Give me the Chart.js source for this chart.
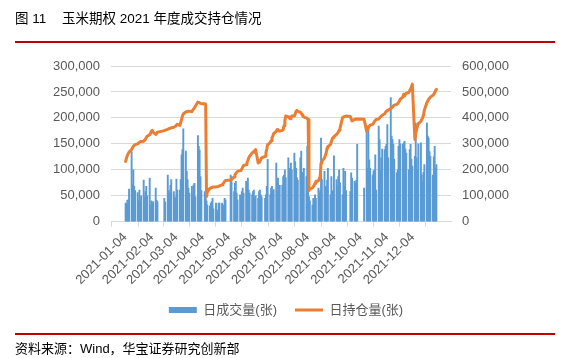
<!DOCTYPE html>
<html>
<head>
<meta charset="utf-8">
<script src="https://cdn.jsdelivr.net/npm/chart.js@4.4.1/dist/chart.umd.min.js"></script>
<style>
html,body{margin:0;padding:0;background:#fff;}
#wrap{position:relative;width:572px;height:358px;overflow:hidden;font-family:"Liberation Sans","Noto Sans CJK SC",sans-serif;}
#c{position:absolute;left:0;top:0;}
.title{position:absolute;top:10px;font-family:"Liberation Sans","Noto Sans CJK SC",sans-serif;font-size:13.5px;line-height:18px;color:#000;white-space:nowrap;}
.rule{position:absolute;left:15px;width:540px;height:2px;background:#c00000;}
#source{position:absolute;left:15px;top:340px;font-family:"Liberation Sans","Noto Sans CJK SC",sans-serif;font-size:13px;line-height:17px;color:#000;white-space:nowrap;}
</style>
</head>
<body>
<div id="wrap">
<canvas id="c" width="572" height="358"></canvas>
<div class="title" style="left:15px">图 11</div>
<div class="title" style="left:62px">玉米期权 2021 年度成交持仓情况</div>
<div class="rule" style="top:40.7px"></div>
<div class="rule" style="top:333.4px"></div>
<div id="source">资料来源：Wind，华宝证券研究创新部</div>
</div>
<script>
// ---- data ----
const seriesNames = ['日成交量(张)', '日持仓量(张)'];
const holidays = ['2021-02-11','2021-02-12','2021-02-15','2021-02-16','2021-02-17','2021-04-05',
  '2021-05-03','2021-05-04','2021-05-05','2021-06-14','2021-09-20','2021-09-21',
  '2021-10-01','2021-10-04','2021-10-05','2021-10-06','2021-10-07'];
const tickLabels = ['2021-01-04','2021-02-04','2021-03-04','2021-04-04','2021-05-04','2021-06-04',
  '2021-07-04','2021-08-04','2021-09-04','2021-10-04','2021-11-04','2021-12-04'];
const leftTicks = [0, 50000, 100000, 150000, 200000, 250000, 300000];
const rightTicks = [0, 100000, 200000, 300000, 400000, 500000, 600000];

// daily volume, one value per trading day (Jan..Dec)
const volume = [
  36000,34000,41000,42000,63000, 135000,71000,100000,68000,60000, 56000,42000,61000,39000,50000, 80000,48000,58000,68000,50000,
  84000,32000,40000,36000,39000, 65000,41000,39000, 45000,38000, 90000,60000,55000,70000,81000,
  58000,48000,45000,82000,61000, 61000,81000,129000,139000,179000, 136000,97000,81000,65000,55000, 68000,52000,71000,74000,48000, 166000,145000,138000,
  87000,60000, 58000,50000,40000,32000, 30000,36000,39000,45000,25000, 36000,23000,19000,36000,36000, 36000,32000,32000,45000,42000,
  90000,87000, 58000,74000,78000,55000,42000, 52000,48000,58000,65000,55000, 78000,36000,84000,61000,55000, 52000,
  58000,61000,45000,50000, 45000,58000,61000,52000,48000, 45000,52000,68000,120000, 52000,65000,68000,58000,62000, 113000,55000,84000,
  61000,70000, 70000,87000,90000,100000,85000, 123000,103000,95000,113000,100000, 132000,116000,103000,85000,80000, 123000,136000,95000,84000,103000,
  87000,145000,87000,48000,40000, 32000,45000,42000,52000,45000, 65000,55000,60000,161000,81000, 97000,68000,65000,80000,103000, 52000,87000,
  60000,52000,127000, 81000,68000,87000,100000,75000, 52000,103000,68000,97000,60000, 58000,94000,84000, 78000,74000,80000,149000,
  65000, 185000,103000,178000,119000,103000, 90000,98000,100000,129000,61000, 184000,158000,100000,123000,140000,
  139000,145000,149000,187000,123000, 239000,165000,158000,149000,120000, 94000,100000,145000,158000,150000, 149000,152000,155000,140000,132000, 100000,139000,
  149000,120000,107000, 126000,190000,123000,100000,150000, 152000,90000,78000,95000,110000, 190000,165000,161000,135000,126000, 90000,125000,145000,103000,110000
];
// daily open interest, one value per trading day (Jan..Dec)
const openInterest = [
  232000,245000,255000,262000,268000, 278000,285000,290000,294000,297000, 300000,303000,306000,308000,309000, 310000,314000,318000,324000,329000,
  335000,341000,349000,352000,345000, 336000,340000,345000, 351000,353000, 356000,358000,359000,360000,362000,
  364000,366000,368000,372000,375000, 371000,381000,394000,407000,415000, 423000,425000,424000,426000,426000, 424000,430000,434000,439000,445000, 461000,460000,458000,
  456000,455000, 455000,452000,97000,116000, 129000,130000,131000,133000,134000, 134000,135000,135000,136000,138000, 142000,145000,150000,155000,159000,
  161000,163000, 172000,181000,186000,190000,194000, 197000,200000,203000,210000,216000, 220000,228000,236000,246000,252000, 265000,
  268000,271000,274000,278000, 226000,230000,235000,239000,246000, 252000,265000,280000,297000, 305000,312000,323000,330000,340000, 348000,355000,352000,
  350000,349000, 352000,355000,370000,390000,407000, 405000,400000,397000,402000,407000, 407000,415000,426000,429000,425000, 422000,418000,412000,407000,403000,
  400000,398000,394000,120000,125000, 130000,135000,140000,148000,155000, 158000,165000,174000,226000,232000, 246000,255000,265000,284000,290000, 297000,308000,
  319000,324000,328000, 336000,340000,345000,352000,360000, 401000,403000,405000,406000,407000, 405000,396000,388000, 394000,395000,395000,396000,
  395000, 349000,355000,362000,368000,372000, 375000,380000,386000,390000,394000, 396000,400000,404000,407000,410000,
  416000,422000,426000,428000,430000, 436000,439000,442000,446000,449000, 452000,455000,459000,465000,472000, 480000,491000,485000,490000,495000, 498000,505000,
  512000,520000,530000, 317000,340000,355000,368000,378000, 387000,394000,400000,410000,430000, 459000,465000,472000,475000,480000, 487000,491000,497000,505000,510000
];

// ---- calendar: trading days as day offsets from 2021-01-04 ----
const DAY = 86400000;
const start = Date.UTC(2021, 0, 4);
const end = Date.UTC(2021, 11, 31);
const tradingDays = [];
for (let t = start; t <= end; t += DAY) {
  const d = new Date(t);
  const wd = d.getUTCDay();
  const iso = d.toISOString().slice(0, 10);
  if (wd === 0 || wd === 6 || holidays.includes(iso)) continue;
  tradingDays.push(Math.round((t - start) / DAY));
}
const dayOffset = iso => Math.round((Date.parse(iso + 'T00:00:00Z') - start) / DAY);
const tickPos = tickLabels.map(dayOffset);
const totalDays = Math.round((end - start) / DAY) + 1;

const volPoints = tradingDays.map((d, i) => ({ x: d + 0.5, y: volume[i] }));
const oiPoints = tradingDays.map((d, i) => ({ x: d + 0.5, y: openInterest[i] }));

const FONT = '"Liberation Sans", "Noto Sans CJK SC", sans-serif';
Chart.defaults.font.family = FONT;
Chart.defaults.color = '#595959';
const fmt = v => Number(v).toLocaleString('en-US');

new Chart(document.getElementById('c'), {
  data: {
    datasets: [
      { type: 'bar', label: seriesNames[0], data: volPoints, yAxisID: 'y',
        backgroundColor: '#5B9BD5', borderWidth: 0, barThickness: 1.25, order: 2 },
      { type: 'line', label: seriesNames[1], data: oiPoints, yAxisID: 'y1',
        borderColor: '#ED7D31', backgroundColor: '#ED7D31', borderWidth: 3,
        borderJoinStyle: 'round', borderCapStyle: 'round',
        pointRadius: 0, tension: 0, order: 1 }
    ]
  },
  options: {
    responsive: false,
    animation: false,
    devicePixelRatio: 1,
    layout: { padding: { top: 66, left: 0, right: 0, bottom: 31.5 } },
    plugins: {
      tooltip: { enabled: false },
      legend: {
        position: 'bottom',
        labels: {
          usePointStyle: true, pointStyleWidth: 28, boxHeight: 6, padding: 18,
          color: '#595959', font: { size: 13, family: FONT },
          generateLabels: chart => chart.data.datasets.map((ds, i) => ({
            text: ds.label,
            fillStyle: ds.backgroundColor,
            strokeStyle: i === 0 ? ds.backgroundColor : ds.borderColor,
            lineWidth: i === 0 ? 0 : 3,
            pointStyle: i === 0 ? 'rect' : 'line',
            fontColor: '#595959',
            hidden: false,
            datasetIndex: i
          }))
        }
      }
    },
    scales: {
      x: {
        type: 'linear', min: 0, max: totalDays,
        afterBuildTicks: s => { s.ticks = tickPos.map(v => ({ value: v })); },
        afterFit: s => { s.height = 63.8; },
        grid: { drawOnChartArea: false, drawTicks: true, tickLength: 5, color: '#d9d9d9' },
        border: { display: true, color: '#d9d9d9' },
        ticks: {
          autoSkip: false, minRotation: 45, maxRotation: 45, padding: 3,
          color: '#595959', font: { size: 13 },
          callback: v => tickLabels[tickPos.indexOf(v)] || ''
        }
      },
      y: {
        position: 'left', min: 0, max: 300000,
        afterBuildTicks: s => { s.ticks = leftTicks.map(v => ({ value: v })); },
        afterFit: s => { s.width = 111; },
        grid: { color: '#d9d9d9', drawTicks: false },
        border: { display: false },
        ticks: { padding: 11, color: '#595959', font: { size: 13 }, callback: fmt }
      },
      y1: {
        position: 'right', min: 0, max: 600000,
        afterBuildTicks: s => { s.ticks = rightTicks.map(v => ({ value: v })); },
        afterFit: s => { s.width = 121; },
        grid: { drawOnChartArea: false, drawTicks: false },
        border: { display: false },
        ticks: { padding: 11, color: '#595959', font: { size: 13 }, callback: fmt }
      }
    }
  }
});
</script>
</body>
</html>
